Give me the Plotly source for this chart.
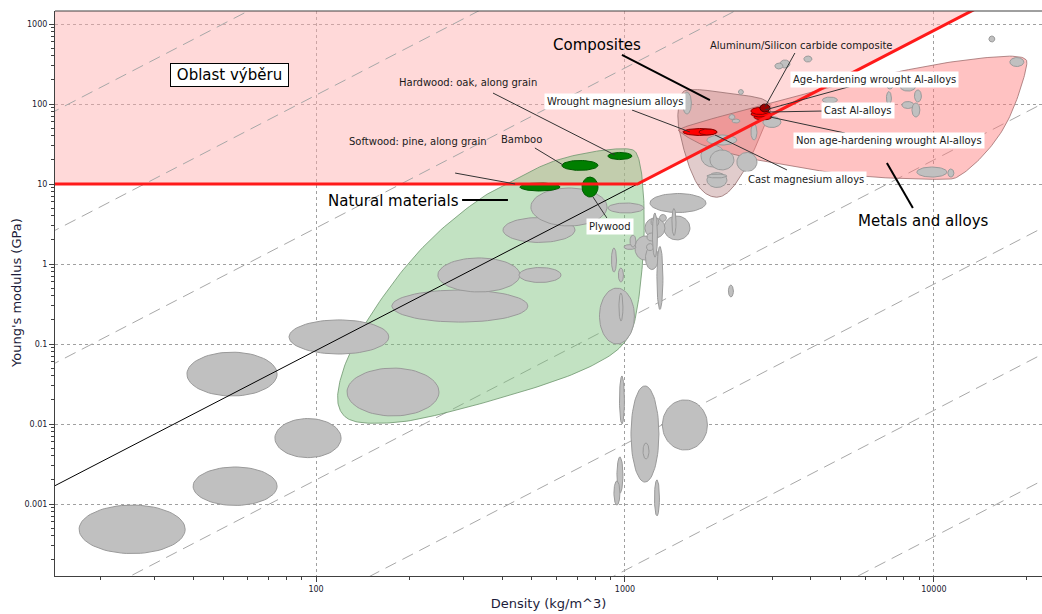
import numpy as np
import plotly.graph_objects as go

# ---------------- Material property ranges ----------------
# density in kg/m^3, Young's modulus in GPa (min / max of each material family)
rho_lo = [17.1, 40.0, 38.2, 73.6, 81.8, 126, 176, 248, 454, 403, 496, 881, 827, 956,
          904, 952, 960, 1046, 1144, 1322, 942, 921, 1246, 2162, 1205, 1337, 1161, 1077,
          1165, 993, 1038, 1178, 1293, 1214, 1174, 1227, 1419, 1269, 1535, 2329, 2171,
          2220, 1842, 1762, 1884, 2303, 1842, 1842, 2557, 2796, 3174, 3058, 3795, 15070,
          17620, 7046, 7792, 8650, 7880, 8490, 7020, 4356, 8810, 11100]
rho_hi = [37.7, 74.8, 74.8, 120.5, 172, 250, 485, 457, 621, 689, 875, 1151, 1073, 985,
          939, 989, 996, 1288, 1196, 1849, 985, 963, 1293, 2244, 1829, 1623, 1347, 1251,
          1283, 1085, 1085, 1250, 1362, 1288, 1237, 1274, 1463, 1327, 1641, 2418, 2270,
          2356, 2303, 2107, 2253, 2675, 2138, 2138, 2675, 3198, 3420, 3246, 4029, 15750,
          19550, 7368, 8714, 9110, 8615, 9010, 7287, 4872, 11020, 11610]
E_lo = [0.00024, 0.00096, 0.0224, 0.0038, 0.075, 0.0126, 0.188, 0.447, 0.587, 1.86,
        2.99, 4.34, 0.10, 0.194, 0.794, 0.596, 0.0100, 0.00188, 0.00365, 0.00473,
        0.00137, 0.00097, 0.00071, 0.387, 4.40, 2.0, 2.11, 1.12, 0.853, 1.519, 1.63,
        1.94, 3.40, 2.94, 1.47, 1.22, 2.27, 0.27, 75, 131.5, 64.0, 57.9, 30.7, 16.3,
        15.0, 14.3, 9.04, 11.9, 35.5, 50.8, 282, 274, 335, 596, 294, 154, 145, 106,
        87.8, 68.8, 98.6, 103, 12.2, 12.2]
E_hi = [0.00097, 0.0029, 0.079, 0.0117, 0.20, 0.050, 0.473, 1.19, 0.904, 3.81, 8.91,
        5.79, 0.50, 0.434, 1.585, 0.891, 0.0398, 0.0299, 0.00579, 0.0200, 0.00387,
        0.00194, 0.0020, 0.546, 7.61, 3.98, 3.76, 2.24, 1.656, 1.752, 2.30, 2.44, 4.16,
        3.81, 1.80, 4.34, 4.94, 1.66, 141, 151.7, 73.9, 64.9, 41.0, 30.7, 26.6, 24.8,
        13.9, 13.3, 56.2, 69.8, 355, 325, 398, 708, 381, 183, 183, 150, 107.5, 102.9,
        143, 122, 16.3, 15.4]

# Highlighted materials
hl_names = ["Hardwood: oak, along grain", "Bamboo", "Softwood: pine, along grain",
            "Plywood", "Wrought magnesium alloys", "Cast magnesium alloys",
            "Non age-hardening wrought Al-alloys", "Cast Al-alloys",
            "Age-hardening wrought Al-alloys", "Aluminum/Silicon carbide composite"]
hl_group = ["wood", "wood", "wood", "wood", "alloy", "alloy", "alloy", "alloy", "alloy",
            "mmc"]
hl_rho_lo = [881, 625, 457, 726, 1541, 1736, 2615, 2557, 2557, 2735]
hl_rho_hi = [1053, 818, 616, 818, 1985, 1985, 2990, 2969, 2924, 2947]
hl_E_lo = [20.2, 14.8, 8.18, 6.88, 40.4, 41.0, 63.1, 68.8, 73.9, 79.4]
hl_E_hi = [24.8, 19.7, 10.3, 12.2, 49.4, 48.7, 75.0, 81.7, 90.5, 100]

# Family envelopes (outline vertices)
natural_rho = [1038, 830, 585, 457, 339, 217, 150, 126, 117, 118, 129, 161, 217, 457,
               753, 1038, 1118, 1161, 1144, 1102]
natural_E = [28.2, 26.6, 20.0, 12.2, 6.88, 1.63, 0.244, 0.0688, 0.0266, 0.015, 0.0106,
             0.0100, 0.0112, 0.0244, 0.0473, 0.103, 0.387, 2.66, 11.2, 24.4]
composite_rho = [1587, 2187, 3058, 2839, 2538, 2304, 2107, 1927, 1749, 1623, 1529, 1473,
                 1507]
composite_E = [158, 137, 112, 54.6, 20.0, 10.3, 7.08, 6.68, 8.41, 15.0, 32.5, 63.1, 130]
metal_rho = [1473, 3058, 4373, 7762, 12140, 20000, 20000, 17620, 14840, 12140, 11020,
             5761, 3767, 2735, 1842, 1507]
metal_E = [50.1, 106, 158, 258, 355, 422, 266, 63.1, 24.4, 12.2, 11.2, 12.2, 15.8, 19.4,
           28.2, 43.4]

# Performance-index guide lines E = C * rho^2, given as E at rho = 1000 kg/m^3
guide_E_at_1000 = [4.0e5, 1.29e4, 282, 0.20, 5.6e-3, 1.48e-4, 3.9e-6]

# Selection criteria
E_min_selection = 10.0          # GPa
index_E_at_1000 = 8.3           # E/rho^2 limit, expressed as E at 1000 kg/m^3

# Axis ticks
x_tickvals = [100, 1000, 10000]
x_ticktext = ["100", "1000", "10000"]
y_tickvals = [0.001, 0.01, 0.1, 1, 10, 100, 1000]
y_ticktext = ["0.001", "0.01", "0.1", "1", "10", "100", "1000"]

X_RANGE = [1.155, 4.35]
Y_RANGE = [-3.9, 3.1625]

FONT = "DejaVu Sans"


def ellipse(r0, r1, e0, e1, n=72):
    lx0, lx1 = np.log10(r0), np.log10(r1)
    ly0, ly1 = np.log10(e0), np.log10(e1)
    cx, cy = (lx0 + lx1) / 2, (ly0 + ly1) / 2
    ax, ay = (lx1 - lx0) / 2, (ly1 - ly0) / 2
    t = np.linspace(0, 2 * np.pi, n)
    return 10 ** (cx + ax * np.cos(t)), 10 ** (cy + ay * np.sin(t))


def smooth_closed(xs, ys, iterations=4):
    """Chaikin corner cutting of a closed outline, done in log-log space."""
    p = np.column_stack([np.log10(xs), np.log10(ys)])
    for _ in range(iterations):
        q = np.roll(p, -1, axis=0)
        a = 0.75 * p + 0.25 * q
        b = 0.25 * p + 0.75 * q
        p = np.empty((2 * len(a), 2))
        p[0::2], p[1::2] = a, b
    p = np.vstack([p, p[:1]])
    return 10 ** p[:, 0], 10 ** p[:, 1]


fig = go.Figure()

# Selection area (above E_min and above the index line)
rho_corner = 1000 * np.sqrt(E_min_selection / index_E_at_1000)
E_far = 5000.0
rho_far = 1000 * np.sqrt(E_far / index_E_at_1000)
fig.add_trace(go.Scatter(
    x=[5, rho_corner, rho_far, 5, 5], y=[E_min_selection, E_min_selection, E_far, E_far,
                                         E_min_selection],
    mode="lines", fill="toself", fillcolor="rgba(255,170,170,0.45)",
    line=dict(width=0), hoverinfo="skip", showlegend=False))

# Guide lines
rho_span = np.array([3.0, 60000.0])
for c in guide_E_at_1000:
    fig.add_trace(go.Scatter(
        x=rho_span, y=c * (rho_span / 1000) ** 2, mode="lines",
        line=dict(color="#a8a8a8", width=1, dash="12px,7px"),
        hoverinfo="skip", showlegend=False))

# Family envelopes
for rx, ey, col, edge in [
        (natural_rho, natural_E, "rgba(120,190,120,0.45)", "rgba(110,150,110,0.8)"),
        (composite_rho, composite_E, "rgba(170,110,110,0.35)", "rgba(150,110,110,0.8)"),
        (metal_rho, metal_E, "rgba(255,120,120,0.45)", "rgba(160,110,110,0.8)")]:
    sx, sy = smooth_closed(rx, ey)
    fig.add_trace(go.Scatter(x=sx, y=sy, mode="lines", fill="toself", fillcolor=col,
                             line=dict(color=edge, width=1), hoverinfo="skip",
                             showlegend=False))

# Material bubbles
for r0, r1, e0, e1 in zip(rho_lo, rho_hi, E_lo, E_hi):
    ex, ey = ellipse(r0, r1, e0, e1)
    fig.add_trace(go.Scatter(x=ex, y=ey, mode="lines", fill="toself",
                             fillcolor="#c0c0c0", line=dict(color="#9a9a9a", width=1),
                             hoverinfo="skip", showlegend=False))

hl_style = {"wood": ("#007f00", "#005a00"),
            "alloy": ("#ff0000", "#8a0000"),
            "mmc": ("#9c0000", "#4a0000")}
for name, g, r0, r1, e0, e1 in zip(hl_names, hl_group, hl_rho_lo, hl_rho_hi, hl_E_lo,
                                   hl_E_hi):
    ex, ey = ellipse(r0, r1, e0, e1)
    fill, edge = hl_style[g]
    fig.add_trace(go.Scatter(x=ex, y=ey, mode="lines", fill="toself", fillcolor=fill,
                             line=dict(color=edge, width=1), name=name,
                             hoverinfo="skip", showlegend=False))

# Index line (black) and selection boundary (red)
rho_line = np.array([3.0, rho_corner])
fig.add_trace(go.Scatter(x=rho_line, y=index_E_at_1000 * (rho_line / 1000) ** 2,
                         mode="lines", line=dict(color="black", width=1),
                         hoverinfo="skip", showlegend=False))
fig.add_trace(go.Scatter(x=[3.0, rho_corner, rho_far],
                         y=[E_min_selection, E_min_selection, E_far],
                         mode="lines", line=dict(color="#ff1a1a", width=3),
                         hoverinfo="skip", showlegend=False))

# Labels: text, position (rho, E), style, leader line (rho0, E0, rho1, E1)
labels = [
    ("Composites", 812, 546, "big", (978, 410, 1884, 112)),
    ("Natural materials", 177.5, 6.13, "big", (297, 6.31, 418, 6.31)),
    ("Metals and alloys", 9282, 3.45, "big", (7046, 18.3, 8551, 5.01)),
    ("Hardwood: oak, along grain", 310, 188, "small", (374, 137, 928, 23.0)),
    ("Bamboo", 464, 35.5, "small", (511, 28.2, 630, 17.3)),
    ("Softwood: pine, along grain", 214, 34.0, "small", (282, 13.7, 441, 10.0)),
    ("Plywood", 894, 2.94, "tag", (788, 6.88, 874, 3.76)),
    ("Wrought magnesium alloys", 928, 106, "tag", (1054, 84.1, 1623, 44.7)),
    ("Aluminum/Silicon carbide composite", 3740, 546, "small", (3549, 434, 2839, 91.7)),
    ("Age-hardening wrought Al-alloys", 6444, 202, "tag", (5427, 168, 2839, 84.1)),
    ("Cast Al-alloys", 5675, 84.1, "tag", (4373, 81.7, 2903, 79.4)),
    ("Non age-hardening wrought Al-alloys", 7153, 34.5, "tag", (5152, 43.4, 2947, 68.8)),
    ("Cast magnesium alloys", 3853, 11.5, "tag", (3344, 15.0, 1956, 41.0)),
]

for text, lr, le, style, (r0, e0, r1, e1) in labels:
    big = style == "big"
    fig.add_trace(go.Scatter(x=[r0, r1], y=[e0, e1], mode="lines",
                             line=dict(color="black" if big else "#333333",
                                       width=2 if big else 1),
                             hoverinfo="skip", showlegend=False))

annotations = []
for text, lr, le, style, _ in labels:
    a = dict(text=text, x=np.log10(lr), y=np.log10(le), xref="x", yref="y",
             showarrow=False, xanchor="center", yanchor="middle")
    if style == "big":
        a.update(font=dict(family=FONT, size=15, color="#000000"))
    else:
        a.update(font=dict(family=FONT, size=10, color="#1a1a1a"))
        if style == "tag":
            a.update(bgcolor="white", borderpad=2)
    annotations.append(a)

# Selection area caption
annotations.append(dict(text="Oblast výběru", x=np.log10(52.3), y=np.log10(230),
                        xref="x", yref="y", showarrow=False,
                        font=dict(family=FONT, size=15, color="#000000"),
                        bgcolor="white", bordercolor="black", borderwidth=1,
                        borderpad=1, width=115, height=20))

# Vertical axis title
annotations.append(dict(text="Young's modulus (GPa)", textangle=-90,
                        xref="paper", yref="paper", x=-38 / 987, y=0.501,
                        xanchor="center", yanchor="middle", showarrow=False,
                        font=dict(family=FONT, size=13, color="#1c1c3a")))

x_minor = [m * 10 ** k for k in range(1, 5) for m in range(2, 10)]
y_minor = [m * 10.0 ** k for k in range(-4, 4) for m in range(2, 10)]

axis_font = dict(family=FONT, size=8, color="#202030")
fig.update_xaxes(
    type="log", range=X_RANGE, tickmode="array", tickvals=x_tickvals,
    ticktext=x_ticktext, tickfont=axis_font, ticks="outside", ticklen=5,
    tickcolor="#404040", showline=True, linecolor="#404040", linewidth=1,
    showgrid=True, gridcolor="#a0a0a0", griddash="3px,3px", gridwidth=1,
    zeroline=False,
    minor=dict(tickmode="array", tickvals=x_minor, ticks="outside", ticklen=3,
               tickcolor="#404040", showgrid=False),
    title=dict(text="Density (kg/m^3)", font=dict(family=FONT, size=13,
                                                  color="#1c1c3a"), standoff=6))
fig.update_yaxes(
    type="log", range=Y_RANGE, tickmode="array", tickvals=y_tickvals,
    ticktext=y_ticktext, tickfont=axis_font, ticks="outside", ticklen=5,
    tickcolor="#404040", showline=True, linecolor="#404040", linewidth=1,
    showgrid=True, gridcolor="#a0a0a0", griddash="3px,3px", gridwidth=1,
    zeroline=False,
    minor=dict(tickmode="array", tickvals=y_minor, ticks="outside", ticklen=3,
               tickcolor="#404040", showgrid=False))

fig.update_layout(
    width=1042, height=614,
    margin=dict(l=55, r=0, t=11, b=38),
    plot_bgcolor="white", paper_bgcolor="white",
    annotations=annotations,
    shapes=[dict(type="line", xref="paper", yref="paper", x0=0, x1=1, y0=1, y1=1,
                 line=dict(color="#404040", width=1))],
    showlegend=False,
)

fig.write_html("out.html")
